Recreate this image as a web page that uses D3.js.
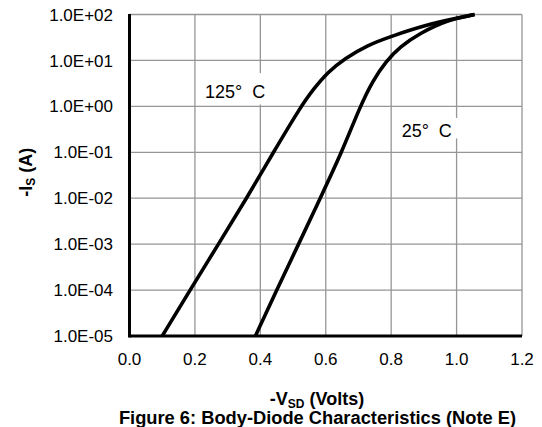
<!DOCTYPE html>
<html>
<head>
<meta charset="utf-8">
<script src="https://cdn.jsdelivr.net/npm/d3@7"></script>
<style>
  html, body { margin: 0; padding: 0; background: #fff; }
  svg { display: block; font-family: "Liberation Sans", Arial, sans-serif; }
</style>
</head>
<body>
<div id="chart"></div>
<script>
// Body-diode forward characteristics
const v125 = [0.10, 0.185, 0.272, 0.358, 0.44, 0.524, 0.563, 0.607, 0.658, 0.729, 0.797, 0.906, 0.998, 1.055];
const i125 = [1e-5, 1e-4, 1e-3, 1e-2, 1e-1, 1, 2.4, 5.6, 11, 21.7, 32.9, 59, 82.6, 100];

const v25 = [0.385, 0.45, 0.517, 0.583, 0.649, 0.705, 0.745, 0.784, 0.827, 0.888, 0.971, 1.055];
const i25 = [1e-5, 1e-4, 1e-3, 1e-2, 1e-1, 1, 3.75, 9.4, 19.9, 39, 75.9, 100];

const xTicks = [0, 0.2, 0.4, 0.6, 0.8, 1.0, 1.2];
const xTickLabels = ["0.0", "0.2", "0.4", "0.6", "0.8", "1.0", "1.2"];
const yTicks = [1e-5, 1e-4, 1e-3, 1e-2, 1e-1, 1, 10, 100];
const yTickLabels = ["1.0E-05", "1.0E-04", "1.0E-03", "1.0E-02", "1.0E-01", "1.0E+00", "1.0E+01", "1.0E+02"];

const width = 542, height = 427;
const margin = { left: 129.5, right: 20, top: 14.5, bottom: 91 };

const svg = d3.select("#chart").append("svg")
  .attr("width", width)
  .attr("height", height);

const x = d3.scaleLinear().domain([0, 1.2]).range([margin.left, width - margin.right]);
const y = d3.scaleLog().domain([1e-5, 1e2]).range([height - margin.bottom, margin.top]);

// Grid
const grid = svg.append("g").attr("stroke", "#969696").attr("stroke-width", 1.3);
grid.selectAll("line.h").data(yTicks).join("line")
  .attr("x1", x(0)).attr("x2", x(1.2))
  .attr("y1", d => y(d)).attr("y2", d => y(d));
grid.selectAll("line.v").data(xTicks.slice(1)).join("line")
  .attr("y1", y(1e-5)).attr("y2", y(1e2))
  .attr("x1", d => x(d)).attr("x2", d => x(d));

// Temperature labels with white boxes behind them
const labels = [
  { text: "125°  C", v: 0.231, i: 1.5, box: [0.21, 0.43, 1.1, 5.3] },
  { text: "25°  C", v: 0.832, i: 0.218, box: [0.82, 1.004, 0.2, 0.56] }
];
svg.append("g").selectAll("rect").data(labels).join("rect")
  .attr("fill", "#fff")
  .attr("x", d => x(d.box[0]))
  .attr("width", d => x(d.box[1]) - x(d.box[0]))
  .attr("y", d => y(d.box[3]))
  .attr("height", d => y(d.box[2]) - y(d.box[3]));

// Axes lines (left + bottom, black)
svg.append("line")
  .attr("x1", x(0)).attr("x2", x(0)).attr("y1", y(1e2) - 0.5).attr("y2", y(1e-5) + 1.5)
  .attr("stroke", "#000").attr("stroke-width", 3);
svg.append("line")
  .attr("x1", x(0)).attr("x2", x(1.2)).attr("y1", y(1e-5)).attr("y2", y(1e-5))
  .attr("stroke", "#000").attr("stroke-width", 3);

// Tick labels
svg.append("g").selectAll("text").data(yTicks).join("text")
  .attr("x", x(0) - 16.5)
  .attr("y", d => y(d))
  .attr("dy", "0.36em")
  .attr("text-anchor", "end")
  .attr("font-size", 17)
  .text((d, i) => yTickLabels[i]);

svg.append("g").selectAll("text").data(xTicks).join("text")
  .attr("x", d => x(d))
  .attr("y", 365)
  .attr("text-anchor", "middle")
  .attr("font-size", 17)
  .text((d, i) => xTickLabels[i]);

// Curves (B-spline smoothing through the read points)
const line = d3.line()
  .x(d => x(d[0]))
  .y(d => y(d[1]))
  .curve(d3.curveBasis);

[[v125, i125], [v25, i25]].forEach(([vs, is]) => {
  svg.append("path")
    .datum(vs.map((v, k) => [v, is[k]]))
    .attr("fill", "none")
    .attr("stroke", "#000")
    .attr("stroke-width", 3.6)
    .attr("stroke-linejoin", "round")
    .attr("d", line);
});

svg.append("g").selectAll("text").data(labels).join("text")
  .attr("x", d => x(d.v))
  .attr("y", d => y(d.i))
  .attr("font-size", 18)
  .style("white-space", "pre")
  .text(d => d.text);

// Axis titles
const xt = svg.append("text")
  .attr("x", 317).attr("y", 405)
  .attr("text-anchor", "middle")
  .attr("font-size", 18)
  .attr("font-weight", "bold");
xt.append("tspan").text("-V");
xt.append("tspan").attr("font-size", 12).attr("dy", 3).text("SD");
xt.append("tspan").attr("dy", -3).style("white-space", "pre").text(" (Volts)");

const yt = svg.append("text")
  .attr("transform", `translate(32,${(y(1e2) + y(1e-5)) / 2 - 3}) rotate(-90)`)
  .attr("text-anchor", "middle")
  .attr("font-size", 18)
  .attr("font-weight", "bold");
yt.append("tspan").text("-I");
yt.append("tspan").attr("font-size", 12).attr("dy", 3).text("S");
yt.append("tspan").attr("dy", -3).style("white-space", "pre").text(" (A)");

// Caption
svg.append("text")
  .attr("x", 317.5).attr("y", 423.5)
  .attr("text-anchor", "middle")
  .attr("font-size", 18.3)
  .attr("font-weight", "bold")
  .text("Figure 6: Body-Diode Characteristics (Note E)");
</script>
</body>
</html>
